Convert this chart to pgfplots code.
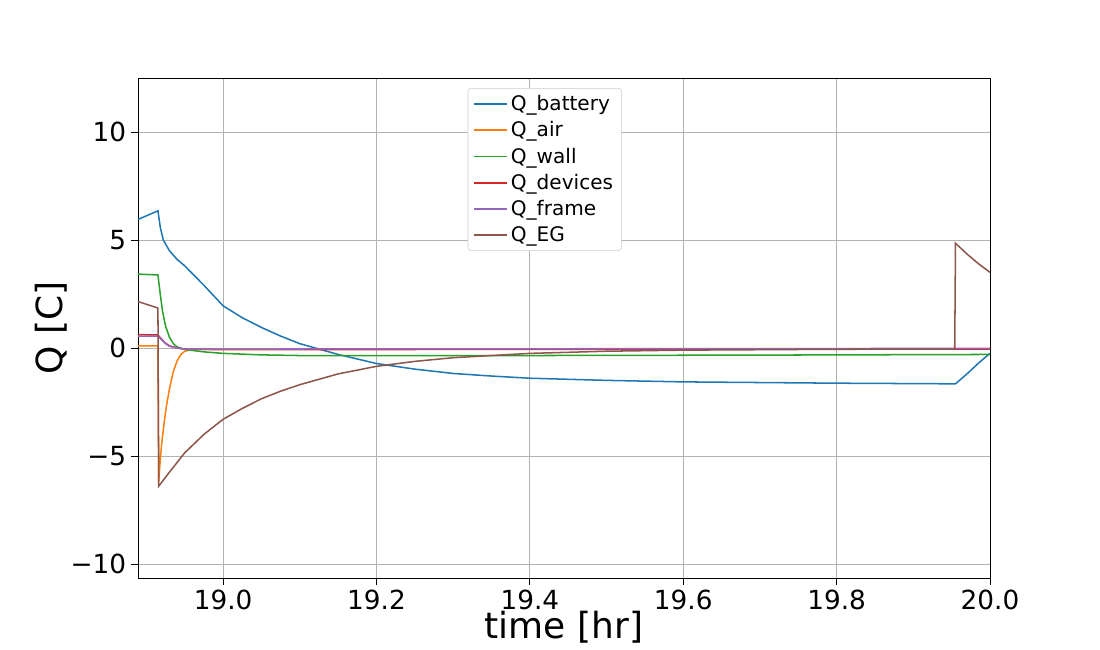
\documentclass[border=0pt]{standalone}
\usepackage{fontspec}
\setmainfont{DejaVu Sans}
\usepackage{pgfplots}
\pgfplotsset{compat=1.18}
\definecolor{c0}{HTML}{1F77B4}
\definecolor{c1}{HTML}{FF7F0E}
\definecolor{c2}{HTML}{2CA02C}
\definecolor{c3}{HTML}{D62728}
\definecolor{c4}{HTML}{9467BD}
\definecolor{c5}{HTML}{8C564B}
\begin{document}
\begin{tikzpicture}
\useasboundingbox (-1.38in,-0.72in) rectangle (9.62in,5.78in);
\begin{axis}[at={(0,0)},anchor=south west,scale only axis,width=8.52in,height=5in,
xmin=18.889,xmax=20.0,ymin=-10.65,ymax=12.5,
xtick={19.0,19.2,19.4,19.6,19.8,20.0},
xticklabels={19.0,19.2,19.4,19.6,19.8,20.0},
ytick={-10,-5,0,5,10},
yticklabels={−10,−5,0,5,10},
grid=major,grid style={gray!60,line width=0.6pt},
tick style={black,line width=0.6pt},tick align=outside,tick pos=left,
major tick length=5pt,
ticklabel style={font=\fontsize{19}{21}\selectfont},
xlabel={time [hr]},ylabel={Q [C]},
label style={font=\fontsize{26}{28}\selectfont},
xlabel style={yshift=6pt},
ylabel style={yshift=-4pt},
legend style={at={(0.387,0.98)},anchor=north west,font=\fontsize{14.5}{16}\selectfont,draw=gray!40,rounded corners=2pt,row sep=2.5pt,inner xsep=4pt,inner ysep=3pt},
legend image post style={xscale=1.4},
legend cell align=left,
every axis plot/.append style={line width=1.1pt},
]
\addplot[c0] coordinates {(18.889,5.95)(18.915,6.35)(18.918,5.6)(18.922,5.0)(18.93,4.5)(18.94,4.1)(18.95,3.8)(18.975,2.9)(19.0,1.95)(19.025,1.4)(19.05,0.95)(19.075,0.55)(19.1,0.2)(19.15,-0.3)(19.2,-0.72)(19.25,-0.98)(19.3,-1.18)(19.35,-1.3)(19.4,-1.4)(19.5,-1.5)(19.6,-1.57)(19.7,-1.6)(19.8,-1.63)(19.955,-1.66)(19.97,-1.2)(19.985,-0.7)(20.0,-0.25)};
\addlegendentry{Q\_battery}
\addplot[c1] coordinates {(18.889,0.1)(18.915,0.1)(18.916,-6.2)(18.918,-5.2)(18.92,-4.4)(18.923,-3.5)(18.926,-2.7)(18.93,-1.9)(18.935,-1.1)(18.94,-0.6)(18.945,-0.3)(18.95,-0.15)(18.96,-0.07)(19.0,-0.05)(20.0,-0.05)};
\addlegendentry{Q\_air}
\addplot[c2] coordinates {(18.889,3.42)(18.915,3.38)(18.918,2.5)(18.921,1.7)(18.925,1.0)(18.93,0.5)(18.935,0.2)(18.94,0.05)(18.95,-0.07)(18.975,-0.18)(19.0,-0.25)(19.05,-0.32)(19.1,-0.35)(19.4,-0.35)(19.7,-0.33)(20.0,-0.3)};
\addlegendentry{Q\_wall}
\addplot[c3] coordinates {(18.889,0.62)(18.915,0.6)(18.92,0.4)(18.925,0.22)(18.93,0.1)(18.94,0)(18.95,-0.05)(19.0,-0.08)(19.5,-0.06)(20.0,-0.05)};
\addlegendentry{Q\_devices}
\addplot[c4] coordinates {(18.889,0.55)(18.915,0.55)(18.92,0.38)(18.925,0.2)(18.93,0.08)(18.94,0)(18.95,-0.05)(19.0,-0.05)(20.0,-0.02)};
\addlegendentry{Q\_frame}
\addplot[c5] coordinates {(18.889,2.15)(18.915,1.85)(18.916,-6.4)(18.93,-5.75)(18.95,-4.85)(18.975,-4.0)(19.0,-3.3)(19.025,-2.8)(19.05,-2.35)(19.075,-2.0)(19.1,-1.7)(19.15,-1.2)(19.2,-0.85)(19.25,-0.62)(19.3,-0.45)(19.4,-0.25)(19.5,-0.15)(19.6,-0.1)(19.8,-0.06)(19.954,-0.05)(19.955,4.85)(19.97,4.35)(19.985,3.9)(20.0,3.5)};
\addlegendentry{Q\_EG}
\end{axis}
\end{tikzpicture}
\end{document}
